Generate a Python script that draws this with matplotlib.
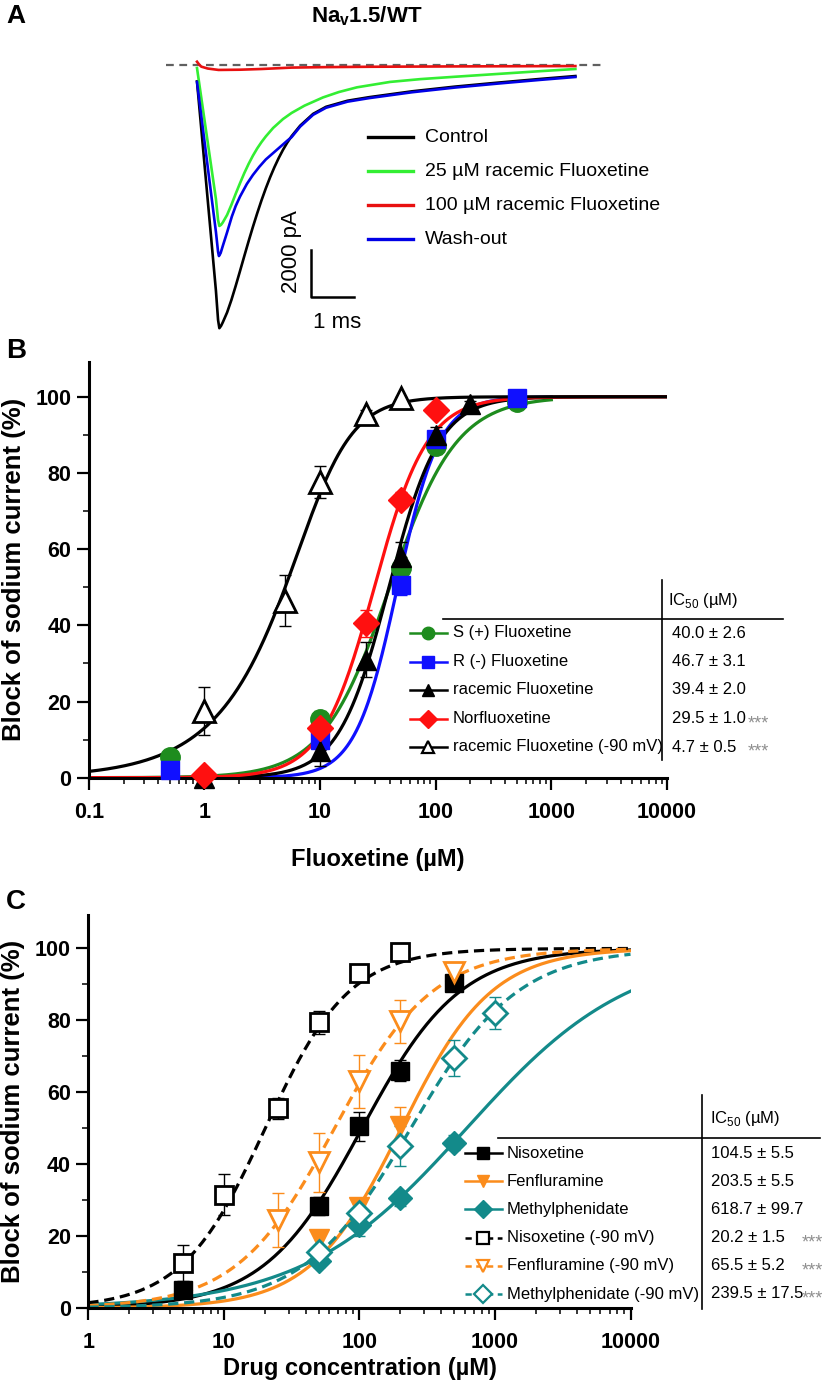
import numpy as np
import matplotlib
matplotlib.use("Agg")
from matplotlib import pyplot as plt
from matplotlib.lines import Line2D
from matplotlib.ticker import LogLocator, MultipleLocator, NullFormatter

plt.rcParams['font.family'] = ['Liberation Sans', 'DejaVu Sans']
plt.rcParams['mathtext.fontset'] = 'custom'
plt.rcParams['mathtext.rm'] = 'Liberation Sans'
plt.rcParams['mathtext.bf'] = 'Liberation Sans:bold'

W, H = 825, 1386

######################## panel A: Na current traces (ms, pA) ########################
t_black = [0, 0.44, 0.49, 0.52, 0.56, 0.6, 0.7, 0.8, 0.9, 1.0, 1.1, 1.2, 1.3, 1.4, 1.5,
           1.6, 1.7, 1.8, 1.9, 2.0, 2.1, 2.2, 2.4, 2.7, 3.0, 3.5, 4.0, 5.0, 6.0, 7.0,
           8.0, 8.8]
i_black = [-700, -9600, -10850, -11200, -11100, -10950, -10530, -10000, -9400, -8770,
           -8130, -7500, -6890, -6310, -5760, -5250, -4780, -4350, -3960, -3610, -3300,
           -3030, -2580, -2080, -1780, -1520, -1370, -1120, -920, -750, -590, -470]

t_green = [0, 0.44, 0.49, 0.52, 0.56, 0.6, 0.7, 0.8, 0.9, 1.0, 1.1, 1.2, 1.3, 1.4, 1.5,
           1.6, 1.77, 2.0, 2.2, 2.5, 2.93, 3.3, 3.72, 4.49, 5.2, 6.0, 7.0, 8.0, 8.8]
i_green = [-130, -5700, -6600, -6850, -6800, -6700, -6380, -5950, -5480, -5030, -4600,
           -4210, -3860, -3550, -3280, -3040, -2680, -2300, -2040, -1730, -1380, -1150,
           -950, -720, -600, -500, -380, -260, -170]

t_blue = [0, 0.44, 0.49, 0.51, 0.55, 0.6, 0.7, 0.81, 0.9, 1.0, 1.16, 1.3, 1.45, 1.6,
          1.75, 1.9, 2.0, 2.1, 2.2, 2.4, 2.7, 3.0, 3.5, 4.0, 5.0, 6.0, 7.0, 8.0, 8.8]
i_blue = [-720, -7100, -7950, -8130, -8000, -7700, -7120, -6450, -6000, -5600, -5060,
          -4680, -4330, -4020, -3780, -3540, -3380, -3220, -3070, -2620, -2120, -1820,
          -1560, -1410, -1160, -960, -790, -630, -510]

t_red = [0, 0.05, 0.1, 0.25, 0.5, 1.0, 1.5, 2.2, 3.0, 4.0, 6.0, 8.8]
i_red = [140, 20, -70, -150, -210, -200, -170, -110, -90, -75, -60, -45]

a_labels = ['Control', '25 µM racemic Fluoxetine', '100 µM racemic Fluoxetine', 'Wash-out']

######################## panel B: fluoxetine block ########################
b_names = ['S (+) Fluoxetine', 'R (-) Fluoxetine', 'racemic Fluoxetine', 'Norfluoxetine',
           'racemic Fluoxetine (-90 mV)']
b_ic50 = ['40.0 ± 2.6', '46.7 ± 3.1', '39.4 ± 2.0', '29.5 ± 1.0', '4.7 ± 0.5']
b_stars = ['', '', '', '***', '***']
b_conc = [[0.5, 10, 50, 100, 500],
          [0.5, 10, 50, 100, 500],
          [1, 10, 25, 50, 100, 200],
          [1, 10, 25, 50, 100],
          [1, 5, 10, 25, 50]]
b_block = [[5.5, 15.5, 55, 87, 98.5],
           [2, 10, 50.5, 89, 99.7],
           [0, 7, 31, 58, 90, 98],
           [0.8, 13, 40.5, 73, 96.5],
           [17.6, 46.5, 77.7, 95.5, 99.7]]
b_err = [[1, 2, 3, 2, 1],
         [1, 2, 2.5, 2, 0.5],
         [0, 4, 4.5, 4, 2, 1],
         [0.5, 2, 3.5, 2, 1.5],
         [6.3, 6.6, 4.2, 1, 0.3]]
# fitted curves: midpoint, slope, asymmetry exponent, last concentration drawn
b_fit_c = [40.0, 46.7, 39.4, 29.5, 9.57]
b_fit_n = [1.5, 2.4, 2.0, 1.9, 2.0]
b_fit_m = [1, 1, 1, 1, 0.45]
b_fit_end = [1000, 1000, 10000, 10000, 10000]

######################## panel C: other drugs ########################
c_names = ['Nisoxetine', 'Fenfluramine', 'Methylphenidate', 'Nisoxetine (-90 mV)',
           'Fenfluramine (-90 mV)', 'Methylphenidate (-90 mV)']
c_ic50 = ['104.5 ± 5.5', '203.5 ± 5.5', '618.7 ± 99.7', '20.2 ± 1.5', '65.5 ± 5.2',
          '239.5 ± 17.5']
c_stars = ['', '', '', '***', '***', '***']
c_conc = [[5, 50, 100, 200, 500],
          [50, 100, 200],
          [50, 100, 200, 500],
          [5, 10, 25, 50, 100, 200],
          [25, 50, 100, 200, 500],
          [50, 100, 200, 500, 1000]]
c_block = [[5, 28.5, 50.5, 66, 90.5],
           [19.3, 28, 50.5],
           [13, 23, 30.5, 46],
           [12.5, 31.5, 55.5, 79.5, 93.2, 99],
           [24.5, 40.5, 63, 79.7, 93.5],
           [15.5, 26.5, 45, 69.5, 82]]
c_err = [[1, 2.5, 4, 3, 1.5],
         [2.5, 2.5, 5.5],
         [1.5, 3, 2, 2],
         [5, 5.7, 3, 3.2, 1.5, 0.6],
         [7.5, 8.3, 7.5, 6, 2],
         [1.5, 4, 5.5, 5, 4.5]]
c_fit_c = [104.5, 203.5, 618.7, 20.2, 65.5, 239.5]
c_fit_n = [1.2, 1.3, 0.72, 1.4, 1.2, 1.1]

# styles
b_col = ['#1e8c1e', '#1010ff', 'black', '#ff1010', 'black']
b_mk = ['o', 's', '^', 'D', '^']
b_ms = [14, 13, 15, 13, 16]
b_open = [False, False, False, False, True]
orange = '#fb8c1c'
teal = '#138a8a'
c_col = ['black', orange, teal, 'black', orange, teal]
c_mk = ['s', 'v', 'D', 's', 'v', 'D']
c_ms = [13, 15, 12, 13, 15, 12]
c_open = [False, False, False, True, True, True]


def hill(x, c, n, m=1.0):
    return 100.0 / (1.0 + (c / x) ** n) ** m


fig = plt.figure(figsize=(W / 100, H / 100), dpi=100)


def ftext(x, y, s, **kw):
    fig.text(x / W, 1 - y / H, s, **kw)


def fline(xs, ys, **kw):
    fig.add_artist(Line2D([x / W for x in xs], [1 - y / H for y in ys], **kw))


def style_axis(ax):
    for s in ['top', 'right']:
        ax.spines[s].set_visible(False)
    for s in ['left', 'bottom']:
        ax.spines[s].set_linewidth(2.2)
    ax.tick_params(which='major', direction='out', length=8.5, width=1.6, labelsize=15.5)
    ax.tick_params(axis='x', which='major', pad=9)
    ax.tick_params(axis='y', which='major', pad=4)
    ax.tick_params(which='minor', direction='out', length=4.3, width=1.1)
    ax.yaxis.set_major_locator(MultipleLocator(20))
    ax.yaxis.set_minor_locator(MultipleLocator(10))
    ax.xaxis.set_minor_locator(LogLocator(base=10, subs=np.arange(2, 10), numticks=20))
    ax.xaxis.set_minor_formatter(NullFormatter())
    for lab in ax.get_xticklabels() + ax.get_yticklabels():
        lab.set_fontweight('bold')


################################### panel A ###################################
axA = fig.add_axes([150 / W, 1 - 345 / H, 550 / W, 305 / H])
axA.set_xlim(-1.093, 11.698)
axA.set_ylim(-11915, 1064)
axA.axis('off')
axA.plot([-0.72, 9.45], [0, 0], color='#606060', lw=1.6, dashes=(3.5, 2.5))
axA.plot(t_black, i_black, color='black', lw=1.9)
axA.plot(t_green, i_green, color='#33ee33', lw=1.9)
axA.plot(t_blue, i_blue, color='#0000e6', lw=1.9)
axA.plot(t_red, i_red, color='#e81010', lw=1.9)
# scale bar 2000 pA / 1 ms
axA.plot([2.64, 2.64, 3.64], [-7872, -9872, -9872], color='black', lw=1.8)

ftext(16, 16, 'A', fontsize=19, fontweight='bold', ha='center', va='center')
ftext(367, 16, r'Na$_{\mathbf{v}}$1.5/WT', fontsize=16, fontweight='bold', ha='center', va='center')
ftext(291, 252, '2000 pA', fontsize=16, rotation=90, ha='center', va='center')
ftext(337, 322, '1 ms', fontsize=16, ha='center', va='center')
a_cols = ['black', '#33ee33', '#e81010', '#0000e6']
for k, lab in enumerate(a_labels):
    y = 137 + k * 34
    fline([368, 413], [y, y], color=a_cols[k], lw=2.4)
    ftext(425, y, lab, fontsize=14, ha='left', va='center')

################################### panel B ###################################
axB = fig.add_axes([88.7 / W, 1 - 777.7 / H, (667 - 88.7) / W, (777.7 - 361.7) / H])
axB.set_xscale('log')
axB.set_xlim(0.1, 10000)
axB.set_ylim(0, 109.2)
for i in range(len(b_names)):
    xs = np.logspace(-1, np.log10(b_fit_end[i]), 400)
    axB.plot(xs, hill(xs, b_fit_c[i], b_fit_n[i], b_fit_m[i]), color=b_col[i], lw=2.3, zorder=2)
for i in range(len(b_names)):
    axB.errorbar(b_conc[i], b_block[i], yerr=b_err[i], fmt='none', ecolor=b_col[i],
                 elinewidth=1.0, capsize=4.5, capthick=1.0, zorder=3, clip_on=False)
    axB.plot(b_conc[i], b_block[i], ls='none', marker=b_mk[i], ms=b_ms[i],
             mfc='white' if b_open[i] else b_col[i], mec=b_col[i],
             mew=2 if b_open[i] else 1, zorder=4 + i * 0.1, clip_on=False)
axB.set_xticks([0.1, 1, 10, 100, 1000, 10000], ['0.1', '1', '10', '100', '1000', '10000'])
style_axis(axB)
axB.set_ylabel('Block of sodium current (%)', fontsize=18.5, fontweight='bold', labelpad=7)
axB.set_xlabel('Fluoxetine (µM)', fontsize=17, fontweight='bold', labelpad=18)
ftext(16, 351, 'B', fontsize=20, fontweight='bold', ha='center', va='center')

# IC50 table B
ftext(703, 601, r'IC$_{\mathregular{50}}$ (µM)', fontsize=12, ha='center', va='center')
fline([443, 783], [619, 619], color='black', lw=1.2)
fline([662, 662], [580, 760], color='black', lw=1.2)
for i, name in enumerate(b_names):
    y = 633 + i * 28.5
    fline([410, 447], [y, y], color=b_col[i], lw=1.8)
    fig.add_artist(Line2D([428 / W], [1 - y / H], marker=b_mk[i], ms=9,
                          mfc='white' if b_open[i] else b_col[i], mec=b_col[i],
                          mew=1.6 if b_open[i] else 1, ls='none'))
    ftext(453, y, name, fontsize=12, ha='left', va='center')
    ftext(672, y, b_ic50[i], fontsize=12, ha='left', va='center')
    if b_stars[i]:
        ftext(748, y + 5, b_stars[i], fontsize=13, color='#8f8f8f', ha='left', va='center')

################################### panel C ###################################
axC = fig.add_axes([88.4 / W, 1 - 1308 / H, (630.5 - 88.4) / W, (1308 - 915) / H])
axC.set_xscale('log')
axC.set_xlim(1, 10000)
axC.set_ylim(0, 109.3)
xs = np.logspace(0, 4, 400)
for i in range(len(c_names)):
    ls_kw = dict(dashes=(3.2, 1.8)) if c_open[i] else {}
    axC.plot(xs, hill(xs, c_fit_c[i], c_fit_n[i]), color=c_col[i], lw=2.3, zorder=2, **ls_kw)
for i in range(len(c_names)):
    axC.errorbar(c_conc[i], c_block[i], yerr=c_err[i], fmt='none', ecolor=c_col[i],
                 elinewidth=1.0, capsize=4.5, capthick=1.0, zorder=3, clip_on=False)
    axC.plot(c_conc[i], c_block[i], ls='none', marker=c_mk[i], ms=c_ms[i],
             mfc='white' if c_open[i] else c_col[i], mec=c_col[i],
             mew=2 if c_open[i] else 1, zorder=4 + i * 0.1, clip_on=False)
axC.set_xticks([1, 10, 100, 1000, 10000], ['1', '10', '100', '1000', '10000'])
style_axis(axC)
axC.set_ylabel('Block of sodium current (%)', fontsize=18.5, fontweight='bold', labelpad=7)
axC.set_xlabel('Drug concentration (µM)', fontsize=17, fontweight='bold', labelpad=3)
ftext(16, 902, 'C', fontsize=20, fontweight='bold', ha='center', va='center')

# IC50 table C
ftext(745, 1118, r'IC$_{\mathregular{50}}$ (µM)', fontsize=12, ha='center', va='center')
fline([498, 820], [1138, 1138], color='black', lw=1.2)
fline([702, 702], [1095, 1309], color='black', lw=1.2)
for i, name in enumerate(c_names):
    y = 1153 + i * 28.2
    kw = dict(dashes=(2.5, 1.8)) if c_open[i] else {}
    fline([465, 502], [y, y], color=c_col[i], lw=1.8, **kw)
    fig.add_artist(Line2D([483 / W], [1 - y / H], marker=c_mk[i], ms=9,
                          mfc='white' if c_open[i] else c_col[i], mec=c_col[i],
                          mew=1.6 if c_open[i] else 1, ls='none'))
    ftext(507, y, name, fontsize=12, ha='left', va='center')
    ftext(711, y, c_ic50[i], fontsize=12, ha='left', va='center')
    if c_stars[i]:
        ftext(802, y + 5, c_stars[i], fontsize=13, color='#8f8f8f', ha='left', va='center')

fig.savefig('out.png', dpi=100)
